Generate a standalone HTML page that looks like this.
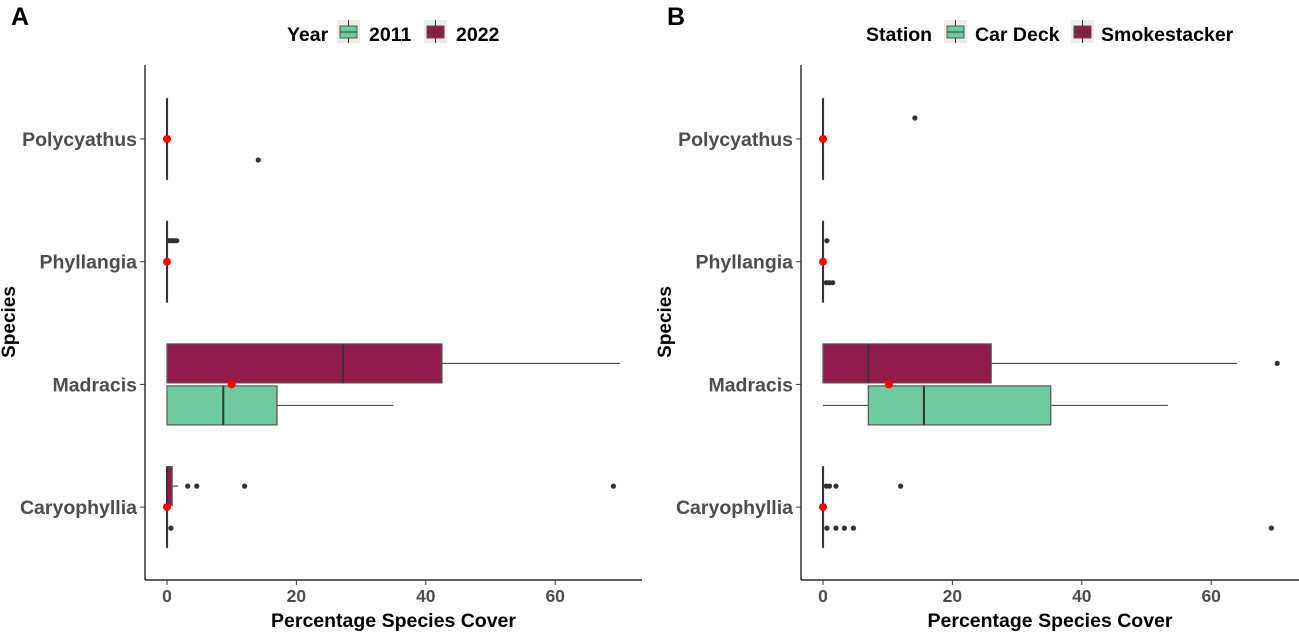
<!DOCTYPE html>
<html><head><meta charset="utf-8"><style>
html,body{margin:0;padding:0;background:#fff}
svg text{font-family:"Liberation Sans",Arial,sans-serif;font-weight:bold}
</style></head><body>
<svg id="chart" width="1299" height="631" xmlns="http://www.w3.org/2000/svg"></svg>
<script>
const species = ["Polycyathus","Phyllangia","Madracis","Caryophyllia"];
const xTicks = [0,20,40,60];
const means = [0,0,10,0];
// Panel A: groups [2022 (upper), 2011 (lower)]; stats per species: [q1, median, q3, whiskerLow, whiskerHigh]
const aUpperStats = [[0,0,0,0,0],[0,0,0,0,0],[0,27.2,42.5,0,70],[0,0,0.8,0,1.7]];
const aLowerStats = [[0,0,0,0,0],[0,0,0,0,0],[0,8.7,17,0,35],[0,0,0,0,0]];
const aUpperOut = [[],[0.3,0.6,0.9,1.2,1.5],[],[3.2,4.6,12,69]];
const aLowerOut = [[14.1],[],[],[0.6]];
// Panel B: groups [Smokestacker (upper), Car Deck (lower)]
const bMeans = [0,0,10.2,0];
const bUpperStats = [[0,0,0,0,0],[0,0,0,0,0],[0,7,26,0,64],[0,0,0,0,0]];
const bLowerStats = [[0,0,0,0,0],[0,0,0,0,0],[7,15.6,35.2,0,53.3],[0,0,0,0,0]];
const bUpperOut = [[14.2],[0.6],[70.2],[0.5,1,2,12]];
const bLowerOut = [[],[0.5,1,1.5],[],[0.6,2,3.3,4.7,69.3]];

const NS="http://www.w3.org/2000/svg";
const svg=document.getElementById('chart');
function mk(tag,attrs,parent,text){const e=document.createElementNS(NS,tag);for(const k in attrs)e.setAttribute(k,attrs[k]);if(text!==undefined)e.textContent=text;(parent||svg).appendChild(e);return e;}
const GREEN="#6FCA9D",MAROON="#911C4C";

function panel(cfg){
  const g=mk('g',{});
  
  
  const x0=cfg.zero, k=6.47;
  const xs=v=>x0+v*k;
  const ys=i=>139+i*122.7;
  const ax=mk('line',{x1:cfg.axL,y1:65,x2:cfg.axL,y2:580,stroke:'#000','stroke-width':1.2},g);
  
  const bx=mk('line',{x1:cfg.axL,y1:580,x2:cfg.axR,y2:580,stroke:'#000','stroke-width':1.2},g);
  
  xTicks.forEach(t=>{
    mk('line',{x1:xs(t),y1:580,x2:xs(t),y2:585,stroke:'#333'},g);
    const tl=mk('text',{x:xs(t),y:602,'text-anchor':'middle','font-size':17.5,fill:'#4d4d4d'},g,t);
    
  });
  species.forEach((s,i)=>{
    mk('line',{x1:cfg.axL-5,y1:ys(i),x2:cfg.axL,y2:ys(i),stroke:'#333'},g);
    const l=mk('text',{x:cfg.axL-8,y:ys(i)+7,'text-anchor':'end','font-size':19.5,fill:'#4d4d4d'},g,s);
    
  });
  const xt=mk('text',{x:(cfg.axL+cfg.axR)/2,y:627,'text-anchor':'middle','font-size':19.5,fill:'#000'},g,'Percentage Species Cover');
  
  const yt=mk('text',{x:0,y:0,'text-anchor':'middle','font-size':19,fill:'#000',transform:`translate(${cfg.axL-130},322) rotate(-90)`},g,'Species');
  
  const pl=mk('text',{x:cfg.axL-134,y:25,'font-size':25,fill:'#000'},g,cfg.letter);
  
  const groups=[[cfg.up,cfg.upOut,MAROON,-21],[cfg.lo,cfg.loOut,GREEN,21]];
  groups.forEach(([stats,outs,col,off])=>{
    stats.forEach((st,i)=>{
      const cy=ys(i)+off;
      const [q1,med,q3,wl,wh]=st;
      if(wh>q3){const w=mk('line',{x1:xs(q3),y1:cy,x2:xs(wh),y2:cy,stroke:'#333','stroke-width':1},g);}
      if(wl<q1){const w=mk('line',{x1:xs(wl),y1:cy,x2:xs(q1),y2:cy,stroke:'#333','stroke-width':1},g);}
      const b=mk('rect',{x:xs(q1),y:cy-19.5,width:Math.max(xs(q3)-xs(q1),0.5),height:39,fill:col,stroke:'#555','stroke-width':1.2},g);
      
      const m=mk('line',{x1:xs(med),y1:cy-19.5,x2:xs(med),y2:cy+19.5,stroke:'#333','stroke-width':2},g);
      
      outs[i].forEach(v=>{const c=mk('circle',{cx:xs(v),cy:cy,r:2.6,fill:'#333'},g);});
    });
  });
  cfg.means.forEach((v,i)=>{const c=mk('circle',{cx:xs(v),cy:ys(i),r:4,fill:'#ff0000'},g);});
  const L=cfg.leg;
  const lt=mk('text',{x:L.title,y:41,'font-size':19.5,fill:'#000'},g,L.titleText);
  
  [[L.k1,GREEN,L.t1,L.l1],[L.k2,MAROON,L.t2,L.l2]].forEach(([kx,col,tx,lab])=>{
    const e=mk('g',{},g);
    mk('rect',{x:kx,y:20,width:23,height:23,fill:'#ececec'},e);
    mk('line',{x1:kx+11.5,y1:20,x2:kx+11.5,y2:43,stroke:'#333'},e);
    mk('rect',{x:kx+3,y:26,width:17,height:12,fill:col,stroke:'#555'},e);
    mk('line',{x1:kx+3,y1:32,x2:kx+20,y2:32,stroke:'#333'},e);
    mk('text',{x:tx,y:41,'font-size':19.5,fill:'#000'},e,lab);
  });
}
panel({name:'panel-a',letter:'A',zero:167,axL:145,axR:642,up:aUpperStats,lo:aLowerStats,upOut:aUpperOut,loOut:aLowerOut,means:means,
  leg:{title:287,titleText:'Year',k1:337,t1:369,l1:'2011',k2:424,t2:456,l2:'2022'}});
panel({name:'panel-b',letter:'B',zero:823,axL:801,axR:1299,up:bUpperStats,lo:bLowerStats,upOut:bUpperOut,loOut:bLowerOut,means:bMeans,
  leg:{title:866,titleText:'Station',k1:944,t1:975,l1:'Car Deck',k2:1071,t2:1101,l2:'Smokestacker'}});
</script>
</body></html>
